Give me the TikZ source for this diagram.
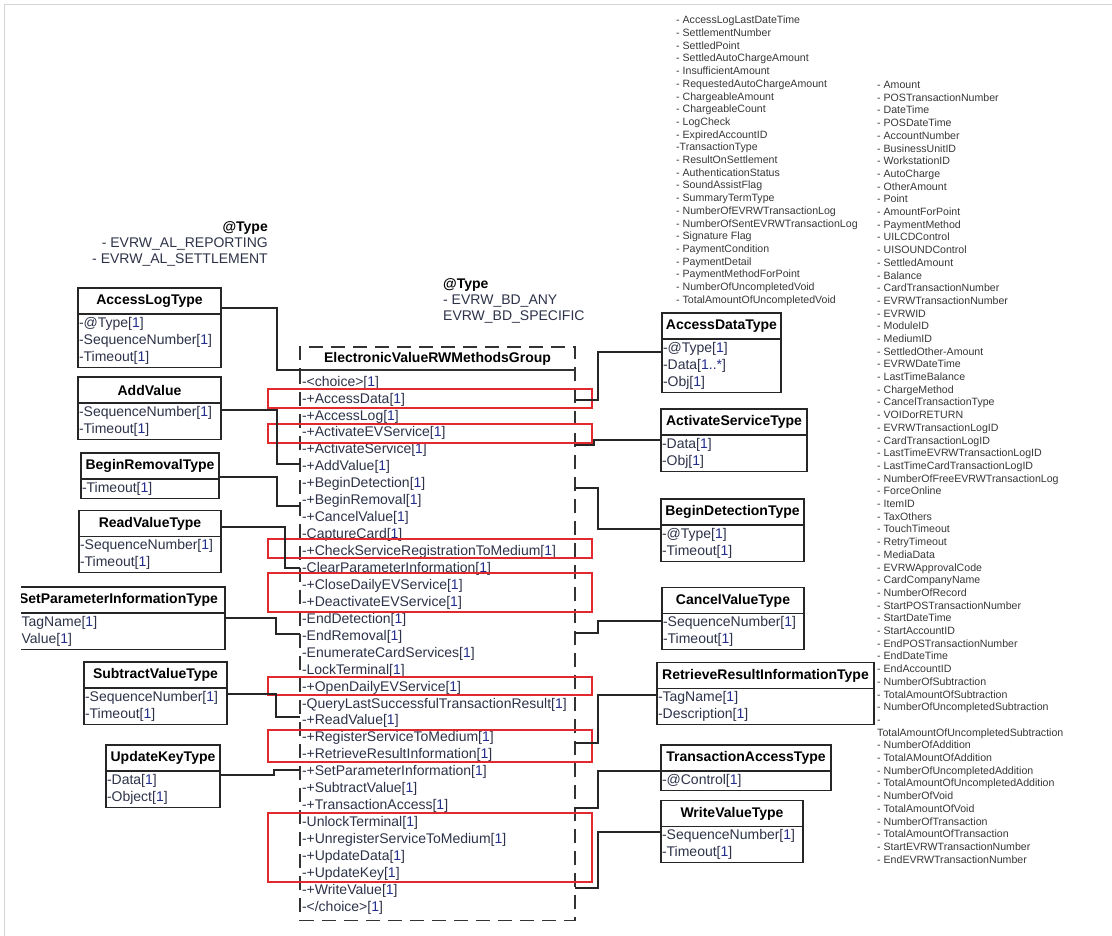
\documentclass[tikz,border=0pt]{standalone}
\usepackage{fontspec}
\setmainfont{Liberation Sans}
\usetikzlibrary{positioning}
\definecolor{attrtext}{RGB}{45,50,72}
\definecolor{multblue}{RGB}{35,45,140}
\definecolor{listgray}{RGB}{55,55,55}
\definecolor{hired}{RGB}{226,42,46}
\definecolor{pageedge}{RGB}{212,212,212}
\newcommand{\mult}[1]{[\textcolor{multblue}{#1}]}
\begin{document}
\begin{tikzpicture}[x=1pt,y=-1pt,
  clshead/.style={draw=black!85, line width=1.1pt, outer sep=0pt, inner sep=0pt, minimum height=26pt, minimum width=#1pt, font=\bfseries\fontsize{14}{16}\selectfont},
  clsbody/.style={draw=black!85, line width=1.1pt, outer sep=0pt, inner xsep=1pt, inner ysep=3pt, text width=#1pt, align=left, text=attrtext, font=\fontsize{14}{17.2}\selectfont},
  grphead/.style={draw=black!80, line width=1.1pt, dash pattern=on 14pt off 8pt, outer sep=0pt, inner sep=0pt, minimum width=275pt, minimum height=23pt, font=\bfseries\fontsize{14}{16}\selectfont},
  grpbody/.style={draw=black!80, line width=1.1pt, dash pattern=on 14pt off 8pt, outer sep=0pt, inner xsep=2pt, inner ysep=6pt, text width=271pt, align=left, text=attrtext, font=\fontsize{14}{16.94}\selectfont},
  note/.style={inner sep=0pt, text=attrtext, font=\fontsize{14}{16}\selectfont},
  varlist/.style={inner sep=0pt, align=left, text=listgray, font=\fontsize{10.6}{12.7}\selectfont},
  hilite/.style={draw=hired, line width=1.2pt},
  link/.style={draw=black!85, line width=1.2pt}]
\useasboundingbox (0,0) rectangle (1112,936);
\draw[pageedge, line width=0.8pt] (4.5,936) -- (4.5,4.5) -- (1112,4.5);

\node[note, anchor=east, align=right] (altype) at (268,244) {\textcolor{black}{\textbf{@Type}}\\- EVRW\_AL\_REPORTING\\- EVRW\_AL\_SETTLEMENT};
\node[note, anchor=west, align=left] (bdtype) at (443,301) {\textcolor{black}{\textbf{@Type}}\\- EVRW\_BD\_ANY\\EVRW\_BD\_SPECIFIC};

\node[grphead] (gtitle) at (437.5,358.5) {ElectronicValueRWMethodsGroup};
\node[grpbody, below=0pt of gtitle] (gbody) {-<choice>\mult{1}\\-+AccessData\mult{1}\\-+AccessLog\mult{1}\\-+ActivateEVService\mult{1}\\-+ActivateService\mult{1}\\-+AddValue\mult{1}\\-+BeginDetection\mult{1}\\-+BeginRemoval\mult{1}\\-+CancelValue\mult{1}\\-CaptureCard\mult{1}\\-+CheckServiceRegistrationToMedium\mult{1}\\-ClearParameterInformation\mult{1}\\-+CloseDailyEVService\mult{1}\\-+DeactivateEVService\mult{1}\\-EndDetection\mult{1}\\-EndRemoval\mult{1}\\-EnumerateCardServices\mult{1}\\-LockTerminal\mult{1}\\-+OpenDailyEVService\mult{1}\\-QueryLastSuccessfulTransactionResult\mult{1}\\-+ReadValue\mult{1}\\-+RegisterServiceToMedium\mult{1}\\-+RetrieveResultInformation\mult{1}\\-+SetParameterInformation\mult{1}\\-+SubtractValue\mult{1}\\-+TransactionAccess\mult{1}\\-UnlockTerminal\mult{1}\\-+UnregisterServiceToMedium\mult{1}\\-+UpdateData\mult{1}\\-+UpdateKey\mult{1}\\-+WriteValue\mult{1}\\-</choice>\mult{1}};

\draw[hilite] (268,389) rectangle (592,408);
\draw[hilite] (268,424) rectangle (592,443);
\draw[hilite] (268,539) rectangle (592,558);
\draw[hilite] (268,573) rectangle (592,612);
\draw[hilite] (268,677) rectangle (592,695);
\draw[hilite] (268,730) rectangle (592,762);
\draw[hilite] (268,813) rectangle (592,882);

\node[clshead=143] (alhead) at (149.5,301) {AccessLogType};
\node[clsbody=141, below=0pt of alhead] (albody) {-@Type\mult{1}\\-SequenceNumber\mult{1}\\-Timeout\mult{1}};
\node[clshead=143] (avhead) at (149.5,390) {AddValue};
\node[clsbody=141, below=0pt of avhead] (avbody) {-SequenceNumber\mult{1}\\-Timeout\mult{1}};
\node[clshead=138] (brhead) at (150,466) {BeginRemovalType};
\node[clsbody=136, below=0pt of brhead] (brbody) {-Timeout\mult{1}};
\node[clshead=142] (rvhead) at (150,523.5) {ReadValueType};
\node[clsbody=140, below=0pt of rvhead] (rvbody) {-SequenceNumber\mult{1}\\-Timeout\mult{1}};
\begin{scope}
\clip (21,0) rectangle (300,936);
\node[clshead=213] (sphead) at (118.5,600) {SetParameterInformationType};
\node[clsbody=203, inner xsep=5pt, below=0pt of sphead] (spbody) {-TagName\mult{1}\\-Value\mult{1}};
\end{scope}
\node[clshead=143] (svhead) at (155.5,675) {SubtractValueType};
\node[clsbody=141, below=0pt of svhead] (svbody) {-SequenceNumber\mult{1}\\-Timeout\mult{1}};
\node[clshead=114] (ukhead) at (163,758) {UpdateKeyType};
\node[clsbody=112, below=0pt of ukhead] (ukbody) {-Data\mult{1}\\-Object\mult{1}};

\node[clshead=119] (adhead) at (721.5,326) {AccessDataType};
\node[clsbody=117, below=0pt of adhead] (adbody) {-@Type\mult{1}\\-Data\mult{1..*}\\-Obj\mult{1}};
\node[clshead=146] (ashead) at (734,422) {ActivateServiceType};
\node[clsbody=144, below=0pt of ashead] (asbody) {-Data\mult{1}\\-Obj\mult{1}};
\node[clshead=143] (bdhead) at (732.5,512) {BeginDetectionType};
\node[clsbody=141, below=0pt of bdhead] (bdbody) {-@Type\mult{1}\\-Timeout\mult{1}};
\node[clshead=142] (cvhead) at (733,600.5) {CancelValueType};
\node[clsbody=140, below=0pt of cvhead] (cvbody) {-SequenceNumber\mult{1}\\-Timeout\mult{1}};
\node[clshead=217] (rrhead) at (765.5,675.5) {RetrieveResultInformationType};
\node[clsbody=215, below=0pt of rrhead] (rrbody) {-TagName\mult{1}\\-Description\mult{1}};
\node[clshead=170] (tahead) at (746,758) {TransactionAccessType};
\node[clsbody=168, below=0pt of tahead] (tabody) {-@Control\mult{1}};
\node[clshead=142] (wvhead) at (732,813.5) {WriteValueType};
\node[clsbody=140, below=0pt of wvhead] (wvbody) {-SequenceNumber\mult{1}\\-Timeout\mult{1}};

\coordinate (m-accesslog) at (300,370);
\coordinate (m-addvalue) at (300,464);
\coordinate (m-beginremoval) at (300,506);
\coordinate (m-clearparam) at (300,568);
\coordinate (m-endremoval) at (300,634);
\coordinate (m-readvalue) at (300,717);
\coordinate (m-setparam) at (300,770);
\coordinate (m-accessdata) at (575,400);
\coordinate (m-activate) at (575,445);
\coordinate (m-begindetect) at (575,488);
\coordinate (m-cancelvalue) at (575,633);
\coordinate (m-retrieve) at (575,743);
\coordinate (m-transaccess) at (575,808);
\coordinate (m-writevalue) at (575,888);

\draw[link] ([yshift=-7pt]alhead.east) -- ++(56,0) |- (m-accesslog);
\draw[link] ([yshift=-20pt]avhead.east) -- ++(56,0) |- (m-addvalue);
\draw[link] ([yshift=-11pt]brhead.east) -- ++(58,0) |- (m-beginremoval);
\draw[link] ([yshift=-3.5pt]rvhead.east) -- ++(64,0) |- (m-clearparam);
\draw[link] ([yshift=-18pt]sphead.east) -- ++(51,0) |- (m-endremoval);
\draw[link] ([yshift=-19pt]svhead.east) -- ++(49,0) |- (m-readvalue);
\draw[link] ([yshift=-17pt]ukhead.east) -- ++(54,0) |- (m-setparam);
\draw[link] ([yshift=-26pt]adhead.west) -- ++(-64,0) |- (m-accessdata);
\draw[link] ([yshift=-18pt]ashead.west) -- ++(-67,0) |- (m-activate);
\draw[link] ([yshift=-17pt]bdhead.west) -- ++(-63,0) |- (m-begindetect);
\draw[link] ([yshift=-20.5pt]cvhead.west) -- ++(-64,0) |- (m-cancelvalue);
\draw[link] ([yshift=-19.5pt]rrhead.west) -- ++(-59,0) |- (m-retrieve);
\draw[link] ([yshift=-13pt]tahead.west) -- ++(-63,0) |- (m-transaccess);
\draw[link] ([yshift=-18.5pt]wvhead.west) -- ++(-63,0) |- (m-writevalue);

\node[varlist, anchor=north west] (vars1) at (676,16) {- AccessLogLastDateTime\\- SettlementNumber\\- SettledPoint\\- SettledAutoChargeAmount\\- InsufficientAmount\\- RequestedAutoChargeAmount\\- ChargeableAmount\\- ChargeableCount\\- LogCheck\\- ExpiredAccountID\\-TransactionType\\- ResultOnSettlement\\- AuthenticationStatus\\- SoundAssistFlag\\- SummaryTermType\\- NumberOfEVRWTransactionLog\\- NumberOfSentEVRWTransactionLog\\- Signature Flag\\- PaymentCondition\\- PaymentDetail\\- PaymentMethodForPoint\\- NumberOfUncompletedVoid\\- TotalAmountOfUncompletedVoid};
\node[varlist, anchor=north west] (vars2) at (877,81) {- Amount\\- POSTransactionNumber\\- DateTime\\- POSDateTime\\- AccountNumber\\- BusinessUnitID\\- WorkstationID\\- AutoCharge\\- OtherAmount\\- Point\\- AmountForPoint\\- PaymentMethod\\- UILCDControl\\- UISOUNDControl\\- SettledAmount\\- Balance\\- CardTransactionNumber\\- EVRWTransactionNumber\\- EVRWID\\- ModuleID\\- MediumID\\- SettledOther-Amount\\- EVRWDateTime\\- LastTimeBalance\\- ChargeMethod\\- CancelTransactionType\\- VOIDorRETURN\\- EVRWTransactionLogID\\- CardTransactionLogID\\- LastTimeEVRWTransactionLogID\\- LastTimeCardTransactionLogID\\- NumberOfFreeEVRWTransactionLog\\- ForceOnline\\- ItemID\\- TaxOthers\\- TouchTimeout\\- RetryTimeout\\- MediaData\\- EVRWApprovalCode\\- CardCompanyName\\- NumberOfRecord\\- StartPOSTransactionNumber\\- StartDateTime\\- StartAccountID\\- EndPOSTransactionNumber\\- EndDateTime\\- EndAccountID\\- NumberOfSubtraction\\- TotalAmountOfSubtraction\\- NumberOfUncompletedSubtraction\\-\\TotalAmountOfUncompletedSubtraction\\- NumberOfAddition\\- TotalAMountOfAddition\\- NumberOfUncompletedAddition\\- TotalAmountOfUncompletedAddition\\- NumberOfVoid\\- TotalAmountOfVoid\\- NumberOfTransaction\\- TotalAmountOfTransaction\\- StartEVRWTransactionNumber\\- EndEVRWTransactionNumber};
\end{tikzpicture}
\end{document}
